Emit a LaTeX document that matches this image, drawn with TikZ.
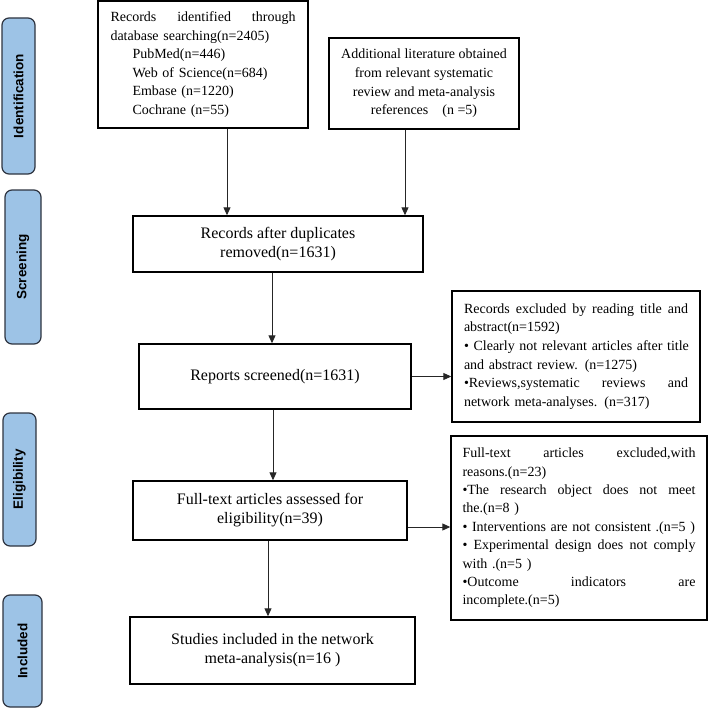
\documentclass[tikz,border=0pt]{standalone}
\usepackage{fontspec}
\setmainfont{Liberation Serif}
\newfontfamily\labfont{Liberation Sans}
\usetikzlibrary{arrows.meta,calc}
\newlength\jlw
\newcommand\Jl[1]{{\spaceskip=0.25em plus 1fil\relax\makebox[\jlw][s]{#1}}}
\newcommand\Ll[1]{\makebox[\jlw][l]{#1}}
\definecolor{phasefill}{HTML}{9DC3E6}
\definecolor{phasedraw}{HTML}{2E3440}
\begin{document}
\begin{tikzpicture}[x=1pt,y=-1pt,
  box/.style={draw=black,line width=1.4pt,inner sep=0pt,anchor=center,fill=white},
  big/.style={font=\fontsize{16}{19}\selectfont,align=center},
  small/.style={font=\fontsize{14}{18.6}\selectfont},
  phase/.style={draw=phasedraw,line width=1.2pt,fill=phasefill,rounded corners=7pt,rotate=90,
    font=\labfont\bfseries\fontsize{13.5}{16}\selectfont,inner sep=0pt},
  arr/.style={draw=black!85,line width=0.9pt,-{Triangle[length=8pt,width=7pt]}}]
\useasboundingbox (0,0) rectangle (708,709);

% phase labels
\node[phase,minimum width=156pt,minimum height=33pt] (pid) at (18.5,96) {Identification};
\node[phase,minimum width=154pt,minimum height=36pt] (psc) at (23,267) {Screening};
\node[phase,minimum width=133pt,minimum height=33pt] (pel) at (19.5,479.5) {Eligibility};
\node[phase,minimum width=112pt,minimum height=39pt] (pin) at (22.5,651) {Included};

% boxes
\node[box,small,text width=185pt,align=left,minimum width=210pt,minimum height=127pt] (box1) at (203,64.5)
 {\setlength\jlw{185pt}%
  \Jl{Records identified through}\\
  \Ll{database searching(n=2405)}\\
  \Ll{\hspace*{22pt}PubMed(n=446)}\\
  \Ll{\hspace*{22pt}Web of Science(n=684)}\\
  \Ll{\hspace*{22pt}Embase (n=1220)}\\
  \Ll{\hspace*{22pt}Cochrane (n=55)}};

\node[box,small,align=center,minimum width=190pt,minimum height=91pt] (box2) at (424,83.5)
 {Additional literature obtained\\ from relevant systematic\\ review and meta-analysis\\ references\quad (n =5)};

\node[box,big,minimum width=290pt,minimum height=56pt] (box3) at (278,244)
 {Records after duplicates\\ removed(n=1631)};

\node[box,big,minimum width=272pt,minimum height=65pt] (box4) at (275,376.5)
 {Reports screened(n=1631)};

\node[box,small,text width=224pt,align=left,minimum width=248pt,minimum height=131pt] (box5) at (576,356.5)
 {\setlength\jlw{224pt}%
  \Jl{Records excluded by reading title and}\\
  \Ll{abstract(n=1592)}\\
  \Ll{• Clearly not relevant articles after title}\\
  \Ll{and abstract review. (n=1275)}\\
  \Jl{•Reviews,systematic reviews and}\\
  \Ll{network meta-analyses. (n=317)}};

\node[box,font=\fontsize{14}{18.4}\selectfont,text width=233pt,align=left,minimum width=256pt,minimum height=184pt] (box6) at (579,528)
 {\setlength\jlw{233pt}%
  \Jl{Full-text articles excluded,with}\\
  \Ll{reasons.(n=23)}\\
  \Jl{•The research object does not meet}\\
  \Ll{the.(n=8 )}\\
  \Ll{• Interventions are not consistent .(n=5 )}\\
  \Jl{• Experimental design does not comply}\\
  \Ll{with .(n=5 )}\\
  \Jl{•Outcome indicators are}\\
  \Ll{incomplete.(n=5)}};

\node[box,big,minimum width=274pt,minimum height=59pt] (box7) at (270,510.5)
 {Full-text articles assessed for\\ eligibility(n=39)};

\node[box,big,minimum width=285pt,minimum height=67pt] (box8) at (272.5,650.5)
 {Studies included in the network\\ meta-analysis(n=16 )};

% connectors
\draw[arr] ([xshift=24pt]box1.south) -- ([xshift=24pt]box1.south |- box3.north);
\draw[arr] ([xshift=-19pt]box2.south) -- ([xshift=-19pt]box2.south |- box3.north);
\draw[arr] ([xshift=-6pt]box3.south) -- ([xshift=-6pt]box3.south |- box4.north);
\draw[arr] (box4.east) -- (box4.east -| box5.west);
\draw[arr] ([xshift=-2pt]box4.south) -- ([xshift=-2pt]box4.south |- box7.north);
\draw[arr] ([yshift=-16.5pt]box7.east) -- ([yshift=-16.5pt]box7.east -| box6.west);
\draw[arr] ([xshift=-2pt]box7.south) -- ([xshift=-2pt]box7.south |- box8.north);
\end{tikzpicture}
\end{document}
